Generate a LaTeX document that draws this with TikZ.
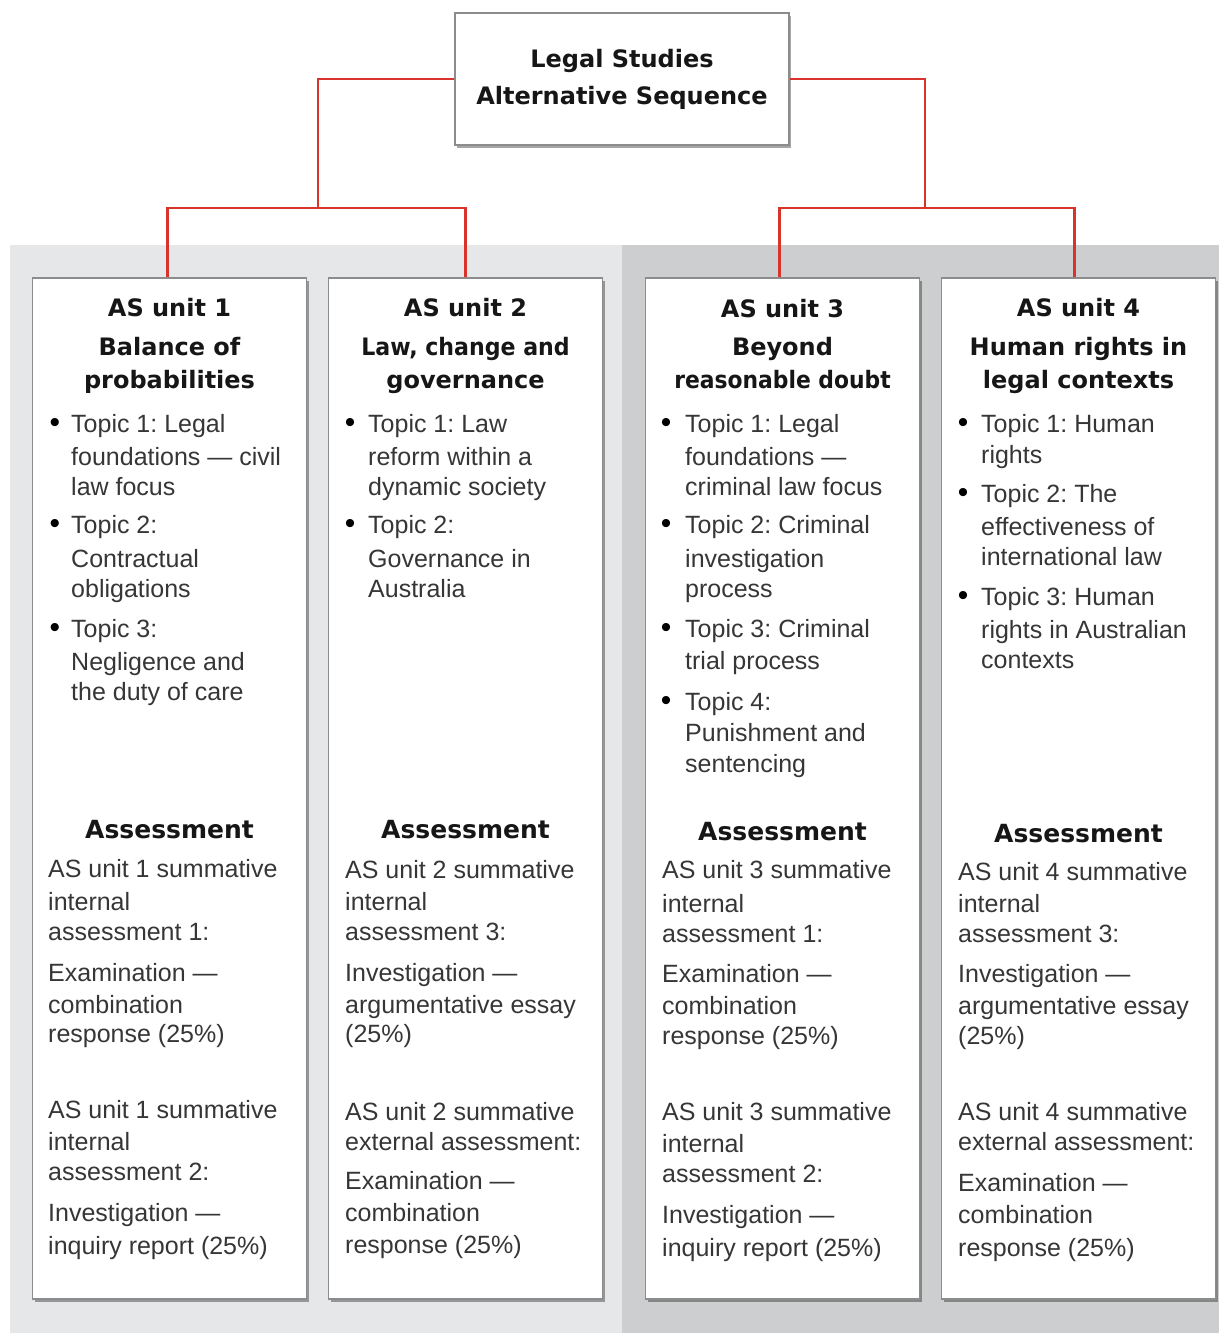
\documentclass[tikz,border=0pt]{standalone}
\usepackage{fontspec}
\setmainfont{Liberation Sans}
\newfontfamily\headfont{DejaVu Sans}
\usetikzlibrary{shadows}
\frenchspacing

\definecolor{panelA}{HTML}{E6E7E9}
\definecolor{panelB}{HTML}{CDCECF}
\definecolor{frame}{HTML}{8C8C8C}
\definecolor{link}{HTML}{D9342B}
\definecolor{ink}{HTML}{161616}
\definecolor{bodyink}{HTML}{363636}

\tikzset{
  boxshadow/.style={drop shadow={shadow xshift=2pt, shadow yshift=-3pt, fill=black, opacity=.35}},
  unitbox/.style={draw=frame, line width=1.6pt, fill=white, minimum width=274pt,
    minimum height=1021pt, inner sep=0pt, boxshadow},
  titlebox/.style={draw=frame, line width=2.2pt, fill=white, minimum width=334pt,
    minimum height=132pt, inner sep=0pt, align=center, text=ink,
    font=\headfont\bfseries\fontsize{24}{37}\selectfont, boxshadow},
  headline/.style={anchor=base, inner sep=0pt, text=ink,
    font=\headfont\bfseries\fontsize{24}{24}\selectfont},
  assesshead/.style={headline, font=\headfont\bfseries\fontsize{25}{25}\selectfont},
  bodyline/.style={anchor=base west, inner sep=0pt, text=bodyink,
    font=\fontsize{25}{25}\selectfont},
  bulletmark/.style={anchor=base, inner sep=0pt, text=black,
    font=\fontsize{30}{30}\selectfont},
  connector/.style={draw=link, line width=2.6pt}
}

\begin{document}
\begin{tikzpicture}[x=1pt, y=-1pt]
\useasboundingbox (0,0) rectangle (1219,1333);
\fill[white] (0,0) rectangle (1219,1333);

% grey bands behind the unit pairs
\fill[panelA] (10,245) rectangle (622,1333);
\fill[panelB] (622,245) rectangle (1219,1333);

% title and unit frames
\node[titlebox] (top) at (622,79) {Legal Studies\\Alternative Sequence};
\node[unitbox] (u1) at (169.5,788.5) {};
\node[unitbox] (u2) at (465.5,788.5) {};
\node[unitbox] (u3) at (782.5,788.5) {};
\node[unitbox] (u4) at (1078.5,788.5) {};

% red tree connectors
\coordinate (jl) at (318,208);
\coordinate (jr) at (925,208);
\draw[connector] (top.west) -| (jl) -| ([xshift=-2pt]u1.north);
\draw[connector] (jl) -| (u2.north);
\draw[connector] (top.east) -| (jr) -| ([xshift=-4pt]u4.north);
\draw[connector] (jr) -| ([xshift=-3pt]u3.north);

% ---------- unit 1 ----------
\node[headline] (u1h1) at (169.5,316) {AS unit 1};
\node[headline] (u1h2) at (169.5,355) {Balance of};
\node[headline] (u1h3) at (169.5,388) {probabilities};
\foreach \yy in {432,533,637} \node[bulletmark] (u1b-\yy) at (55,\yy) {•};
\foreach \yy/\txt [count=\i] in {432/Topic 1: Legal, 465/foundations — civil,
  495/law focus, 533/Topic 2:, 567/Contractual, 597/obligations, 637/Topic 3:,
  670/Negligence and, 700/the duty of care}
  \node[bodyline] (u1t-\i) at (71,\yy) {\txt};
\node[assesshead] (u1a) at (169.5,838) {Assessment};
\foreach \yy/\txt [count=\i] in {877/AS unit 1 summative, 910/internal,
  940/assessment 1:, 981/Examination —, 1013/combination, 1042/response (25\%),
  1118/AS unit 1 summative, 1150/internal, 1180/assessment 2:,
  1221/Investigation —, 1254/inquiry report (25\%)}
  \node[bodyline] (u1s-\i) at (48,\yy) {\txt};

% ---------- unit 2 ----------
\node[headline] (u2h1) at (465.5,316) {AS unit 2};
\node[headline] (u2h2) at (465.5,355) {\scalebox{0.92}[1]{Law, change and}};
\node[headline] (u2h3) at (465.5,388) {governance};
\foreach \yy in {432,533} \node[bulletmark] (u2b-\yy) at (350,\yy) {•};
\foreach \yy/\txt [count=\i] in {432/Topic 1: Law, 465/reform within a,
  495/dynamic society, 533/Topic 2:, 567/Governance in, 597/Australia}
  \node[bodyline] (u2t-\i) at (368,\yy) {\txt};
\node[assesshead] (u2a) at (465.5,838) {Assessment};
\foreach \yy/\txt [count=\i] in {878/AS unit 2 summative, 910/internal,
  940/assessment 3:, 981/Investigation —, 1013/argumentative essay, 1042/(25\%),
  1120/AS unit 2 summative, 1150/external assessment:, 1189/Examination —,
  1221/combination, 1253/response (25\%)}
  \node[bodyline] (u2s-\i) at (345,\yy) {\txt};

% ---------- unit 3 ----------
\node[headline] (u3h1) at (782.5,317) {AS unit 3};
\node[headline] (u3h2) at (782.5,355) {Beyond};
\node[headline] (u3h3) at (782.5,388) {\scalebox{0.91}[1]{reasonable doubt}};
\foreach \yy in {432,533,637,710} \node[bulletmark] (u3b-\yy) at (666,\yy) {•};
\foreach \yy/\txt [count=\i] in {432/Topic 1: Legal, 465/foundations —,
  495/criminal law focus, 533/Topic 2: Criminal, 567/investigation, 597/process,
  637/Topic 3: Criminal, 669/trial process, 710/Topic 4:, 741/Punishment and,
  772/sentencing}
  \node[bodyline] (u3t-\i) at (685,\yy) {\txt};
\node[assesshead] (u3a) at (782.5,840) {Assessment};
\foreach \yy/\txt [count=\i] in {878/AS unit 3 summative, 912/internal,
  942/assessment 1:, 982/Examination —, 1014/combination, 1044/response (25\%),
  1120/AS unit 3 summative, 1152/internal, 1182/assessment 2:,
  1223/Investigation —, 1256/inquiry report (25\%)}
  \node[bodyline] (u3s-\i) at (662,\yy) {\txt};

% ---------- unit 4 ----------
\node[headline] (u4h1) at (1078.5,316) {AS unit 4};
\node[headline] (u4h2) at (1078.5,355) {Human rights in};
\node[headline] (u4h3) at (1078.5,388) {legal contexts};
\foreach \yy in {432,502,605} \node[bulletmark] (u4b-\yy) at (963,\yy) {•};
\foreach \yy/\txt [count=\i] in {432/Topic 1: Human, 463/rights, 502/Topic 2: The,
  535/effectiveness of, 565/international law, 605/Topic 3: Human,
  638/rights in Australian, 668/contexts}
  \node[bodyline] (u4t-\i) at (981,\yy) {\txt};
\node[assesshead] (u4a) at (1078.5,842) {Assessment};
\foreach \yy/\txt [count=\i] in {880/AS unit 4 summative, 912/internal,
  942/assessment 3:, 982/Investigation —, 1014/argumentative essay, 1044/(25\%),
  1120/AS unit 4 summative, 1150/external assessment:, 1191/Examination —,
  1223/combination, 1256/response (25\%)}
  \node[bodyline] (u4s-\i) at (958,\yy) {\txt};
\end{tikzpicture}
\end{document}
